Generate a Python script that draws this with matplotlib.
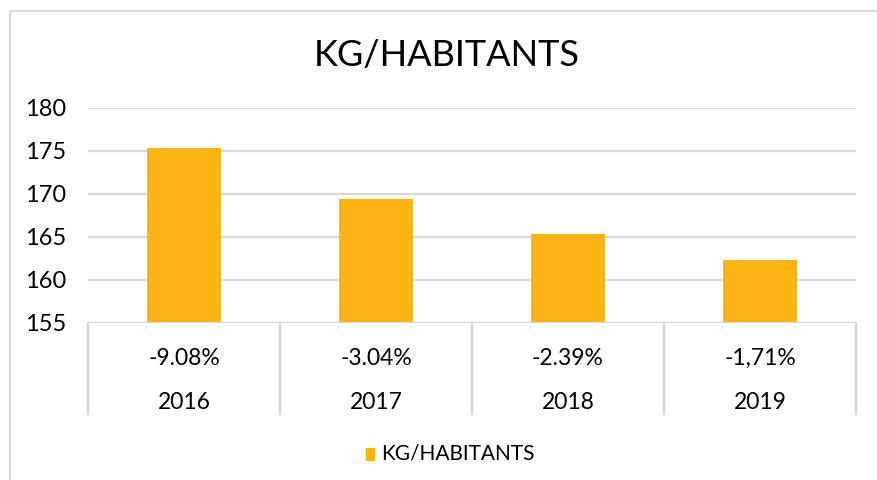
import matplotlib
matplotlib.use('Agg')
import matplotlib.pyplot as plt
from matplotlib.patches import Rectangle
from matplotlib.lines import Line2D

years = ['2016', '2017', '2018', '2019']
kg_hab = [175.35, 169.4, 165.35, 162.3]
variation = ['-9.08%', '-3.04%', '-2.39%', '-1,71%']
yticks = [155, 160, 165, 170, 175, 180]

plt.rcParams['font.family'] = ['Lato', 'DejaVu Sans']
bar_color = '#FCB415'
grid_color = '#D9D9D9'
W, H = 877, 480

fig = plt.figure(figsize=(W / 100, H / 100), dpi=100)
ax = fig.add_axes([88 / W, 1 - 323 / H, (856 - 88) / W, (323 - 108) / H])

x = range(len(years))
ax.bar(x, [v - yticks[0] for v in kg_hab], bottom=yticks[0], width=0.39,
       color=bar_color, zorder=3)
ax.set_xlim(-0.5, len(years) - 0.5)
ax.set_ylim(yticks[0], yticks[-1])
ax.set_yticks(yticks)
ax.set_yticklabels([str(t) for t in yticks], fontsize=17)
ax.tick_params(axis='y', length=0, pad=16)
ax.set_xticks([])
for s in ax.spines.values():
    s.set_visible(False)
ax.yaxis.grid(True, color=grid_color, linewidth=1.6, zorder=0)

# category table below the axis
trans = ax.get_xaxis_transform()
ax.axhline(yticks[0], color=grid_color, linewidth=1.6, zorder=4)
for b in [i - 0.5 for i in range(len(years) + 1)]:
    ax.add_line(Line2D([b, b], [0, -0.423], transform=trans, color=grid_color,
                       linewidth=1.6, clip_on=False))
for i in x:
    ax.text(i, -0.163, variation[i], transform=trans, ha='center', va='center',
            fontsize=16.5)
    ax.text(i, -0.372, years[i], transform=trans, ha='center', va='center',
            fontsize=16.5)

# chart title and legend
fig.text(447 / W, 1 - 55 / H, 'KG/HABITANTS', ha='center', va='center', fontsize=26)
fig.patches.append(Rectangle((366 / W, 1 - 460 / H), 8 / W, 12 / H,
                             transform=fig.transFigure, color=bar_color))
fig.text(381 / W, 1 - 454 / H, 'KG/HABITANTS', ha='left', va='center', fontsize=15)

# chart border (left/top visible)
fig.patches.append(Rectangle((10 / W, -0.1), 1.2, 1 - 11 / H + 0.1,
                             transform=fig.transFigure, fill=False,
                             edgecolor=grid_color, linewidth=1.5))

fig.savefig('out.png', dpi=100)
